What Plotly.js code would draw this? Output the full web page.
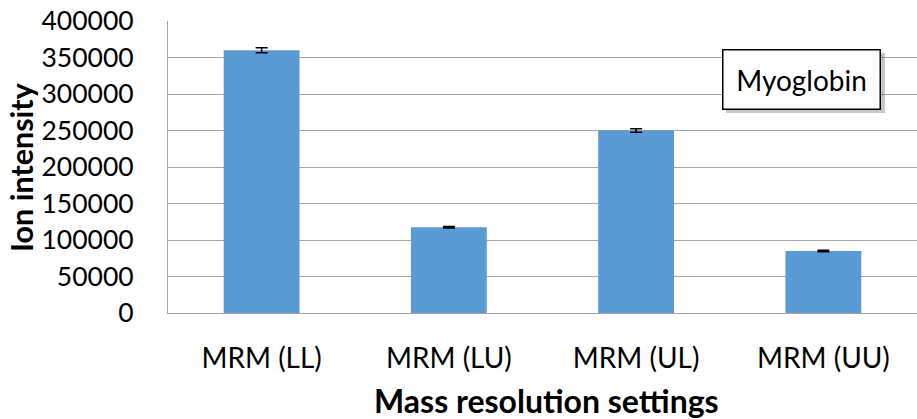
<!DOCTYPE html>
<html>
<head>
<meta charset="utf-8">
<script src="https://cdn.plot.ly/plotly-3.0.1.min.js"></script>
<style>
  html, body { margin: 0; padding: 0; background: #fff; }
  #chart { width: 917px; height: 419px; }
</style>
</head>
<body>
<div id="chart"></div>
<script>
// MRM ion intensity for myoglobin under four mass resolution settings
const categories = ["MRM (LL)", "MRM (LU)", "MRM (UL)", "MRM (UU)"];
const intensity = [360000, 117500, 250000, 85000];
const intensityErr = [3500, 1000, 2500, 1000];
const yTicks = [0, 50000, 100000, 150000, 200000, 250000, 300000, 350000, 400000];

const FONT = "Lato, 'Open Sans', sans-serif";

const trace = {
  type: "bar",
  x: categories,
  y: intensity,
  width: 0.405,
  marker: { color: "#5B9BD5", line: { width: 0 } },
  error_y: {
    type: "data",
    array: intensityErr,
    visible: true,
    color: "#000000",
    thickness: 1.5,
    width: 6
  },
  hoverinfo: "x+y"
};

const layout = {
  width: 917,
  height: 419,
  margin: { l: 168, r: 0, t: 21, b: 106 },
  paper_bgcolor: "#ffffff",
  plot_bgcolor: "#ffffff",
  showlegend: false,
  bargap: 0.6,
  font: { family: FONT, color: "#000000" },
  xaxis: {
    type: "category",
    showgrid: false,
    showline: true,
    linecolor: "#A6A6A6",
    linewidth: 1,
    ticks: "",
    tickfont: { family: FONT, size: 28, color: "#000000" },
    ticklabelstandoff: 20,
    fixedrange: true
  },
  yaxis: {
    range: [0, 400000],
    tickvals: yTicks,
    ticktext: yTicks.map(String),
    showgrid: true,
    gridcolor: "#A6A6A6",
    gridwidth: 1,
    zeroline: false,
    showline: true,
    linecolor: "#A6A6A6",
    linewidth: 1,
    ticks: "",
    tickfont: { family: FONT, size: 26.5, color: "#000000" },
    ticklabelstandoff: 28,
    fixedrange: true
  },
  shapes: [
    // soft drop shadow behind the label box
    { type: "rect", xref: "paper", yref: "paper", layer: "above",
      x0: (726 - 168) / 749, x1: (885 - 168) / 749,
      y0: (313 - 113) / 292, y1: (313 - 53) / 292,
      fillcolor: "rgba(0,0,0,0.22)", line: { width: 0 } }
  ],
  annotations: [
    { text: "<b>Ion intensity</b>", xref: "paper", yref: "paper",
      x: -147 / 749, y: (313 - 167) / 292, xanchor: "center", yanchor: "middle",
      textangle: -90, showarrow: false,
      font: { family: FONT, size: 30.5, color: "#000000" } },
    { text: "<b>Mass resolution settings</b>", xref: "paper", yref: "paper",
      x: (546 - 168) / 749, y: -(401 - 313) / 292, xanchor: "center", yanchor: "middle",
      showarrow: false,
      font: { family: FONT, size: 32, color: "#000000" } },
    { text: "Myoglobin", xref: "paper", yref: "paper",
      x: (801 - 168) / 749, y: (313 - 79) / 292, xanchor: "center", yanchor: "middle",
      showarrow: false, bgcolor: "#ffffff", bordercolor: "#000000", borderwidth: 1.5,
      width: 150, height: 52, borderpad: 3,
      font: { family: FONT, size: 28, color: "#000000" } }
  ]
};

Plotly.newPlot("chart", [trace], layout, { displayModeBar: false, staticPlot: true });
</script>
</body>
</html>
